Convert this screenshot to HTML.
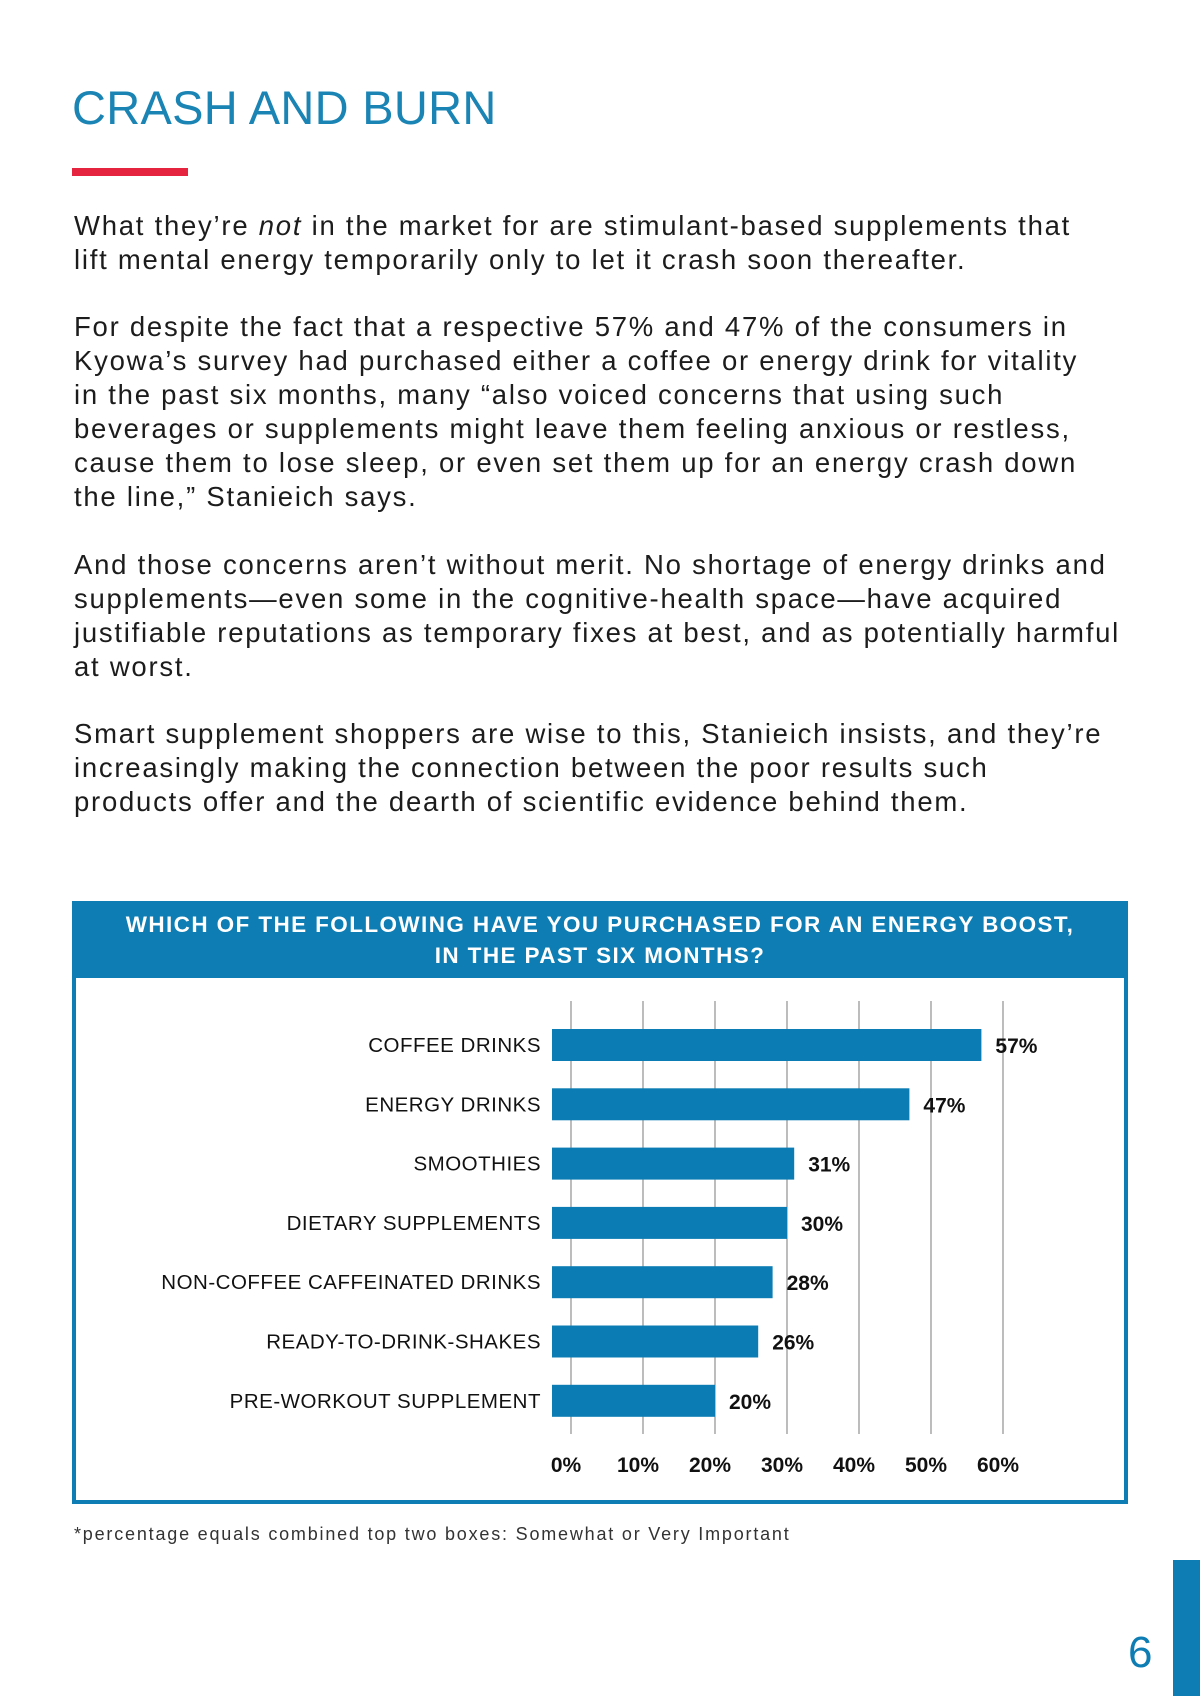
<!DOCTYPE html>
<html><head><meta charset="utf-8">
<style>
body{margin:0;width:1200px;height:1696px;background:#fff;position:relative;overflow:hidden;font-family:"Liberation Sans",sans-serif;}
.abs{position:absolute}
#title{left:72px;top:80px;font-size:47px;color:#1a84b4;letter-spacing:0.3px;}
#rule{left:72px;top:168px;width:116px;height:8px;background:#e5253f}
.body{left:74px;font-size:27.5px;color:#1c1c1c;line-height:33.9px;white-space:nowrap;letter-spacing:1.75px}
#chartbox{left:72px;top:901px;width:1048px;height:595px;border:4px solid #0d7db3;box-sizing:content-box}
#hdr{left:72px;top:901px;width:1056px;height:77px;background:#0d7db3;color:#fff;font-weight:bold;font-size:22.5px;text-align:center;line-height:31px;padding-top:8px;box-sizing:border-box;letter-spacing:1.4px}
#foot{left:74px;top:1524px;font-size:18px;color:#333;letter-spacing:1.8px}
#pgbar{left:1173px;top:1560px;width:27px;height:136px;background:#0d7db3}
#pgnum{left:1128px;top:1628px;font-size:44px;color:#0d7db3}
</style></head><body>
<div id="title" class="abs">CRASH AND BURN</div>
<div id="rule" class="abs"></div>
<div class="abs body" style="top:209px">What they’re <i>not</i> in the market for are stimulant-based supplements that<br>lift mental energy temporarily only to let it crash soon thereafter.</div>
<div class="abs body" style="top:310px">For despite the fact that a respective 57% and 47% of the consumers in<br>Kyowa’s survey had purchased either a coffee or energy drink for vitality<br>in the past six months, many “also voiced concerns that using such<br>beverages or supplements might leave them feeling anxious or restless,<br>cause them to lose sleep, or even set them up for an energy crash down<br>the line,” Stanieich says.</div>
<div class="abs body" style="top:548px">And those concerns aren’t without merit. No shortage of energy drinks and<br>supplements—even some in the cognitive-health space—have acquired<br>justifiable reputations as temporary fixes at best, and as potentially harmful<br>at worst.</div>
<div class="abs body" style="top:717px">Smart supplement shoppers are wise to this, Stanieich insists, and they’re<br>increasingly making the connection between the poor results such<br>products offer and the dearth of scientific evidence behind them.</div>

<div id="chartbox" class="abs"></div>
<div id="hdr" class="abs">WHICH OF THE FOLLOWING HAVE YOU PURCHASED FOR AN ENERGY BOOST,<br>IN THE PAST SIX MONTHS?</div>
<svg id="chart" class="abs" style="left:0;top:0" width="1200" height="1696"></svg>
<div id="foot" class="abs">*percentage equals combined top two boxes: Somewhat or Very Important</div>
<div id="pgbar" class="abs"></div>
<div id="pgnum" class="abs">6</div>
<script>
const categories=["COFFEE DRINKS","ENERGY DRINKS","SMOOTHIES","DIETARY SUPPLEMENTS","NON-COFFEE CAFFEINATED DRINKS","READY-TO-DRINK-SHAKES","PRE-WORKOUT SUPPLEMENT"];
const values=[57,47,31,30,28,26,20];
const ticks=[0,10,20,30,40,50,60];
const tickLabels=["0%","10%","20%","30%","40%","50%","60%"];
const NS="http://www.w3.org/2000/svg";
const svg=document.getElementById('chart');
const x0=571,pxPer=7.2;
function x(v){return x0+v*pxPer;}
function yc(i){return 1045+i*59.3;}
function mk(t,a){const e=document.createElementNS(NS,t);for(const k in a)e.setAttribute(k,a[k]);svg.appendChild(e);return e;}
ticks.forEach((t,i)=>{
 const l=mk('line',{x1:x(t),x2:x(t),y1:1001,y2:1434,stroke:'#999','stroke-width':1.3});
 
 
 const tx=mk('text',{x:x(t)-5,y:1472,'text-anchor':'middle','font-size':21,'font-weight':'bold',fill:'#111','font-family':'Liberation Sans, sans-serif'});
 tx.textContent=tickLabels[i];
 
 
});
categories.forEach((c,i)=>{
 const r=mk('rect',{x:x0-19,y:yc(i)-16,width:x(values[i])-(x0-19),height:32,fill:'#0c7db4'});
 
 
 const lb=mk('text',{x:541,y:yc(i)+7,'text-anchor':'end','font-size':20.5,'letter-spacing':0.5,fill:'#111','font-family':'Liberation Sans, sans-serif'});
 lb.textContent=c;
 
 
 const vl=mk('text',{x:x(values[i])+14,y:yc(i)+8,'font-size':21,'font-weight':'bold',fill:'#111','font-family':'Liberation Sans, sans-serif'});
 vl.textContent=values[i]+'%';
 
 
});
</script>
</body></html>
